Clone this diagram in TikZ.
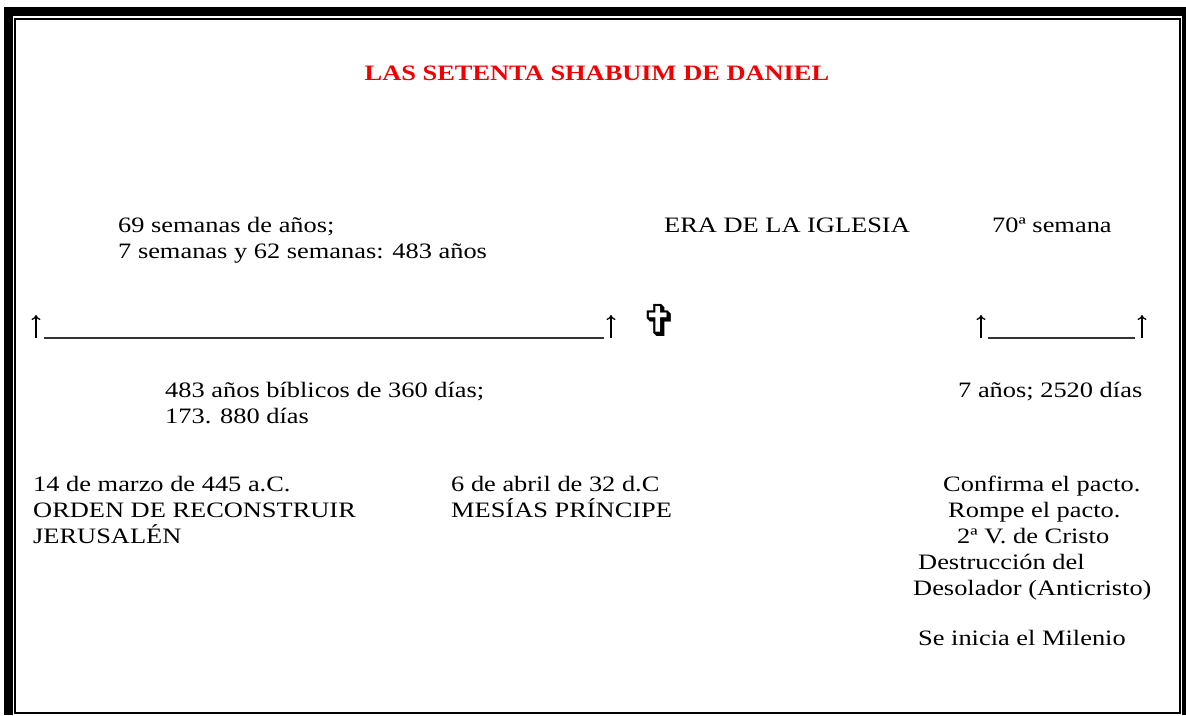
\documentclass[tikz,border=0pt]{standalone}
\usepackage{fontspec}
\setmainfont{Liberation Serif}[FakeStretch=1.2]
\newfontfamily\crossfont{DejaVu Sans}
\usetikzlibrary{arrows.meta}
\definecolor{titlered}{RGB}{240,0,0}
\tikzset{
	txt/.style={anchor=base west, inner sep=0pt, font=\fontsize{22}{26}\selectfont},
	uparrow/.style={line width=1.3pt, -{To[length=5pt,width=9pt]}},
	baseline/.style={line width=1.5pt, black!80}
}

\begin{document}
\begin{tikzpicture}[x=1pt,y=-1pt]
	\useasboundingbox (0,0) rectangle (1186,715);
	% frame
	\fill (4,7) rectangle (13,715);
	\fill (4,7) rectangle (1186,16);
	\fill (1182,7) rectangle (1186,715);
	\draw[line width=2pt] (15,19) rectangle (1180,713);
	% title
	\node[anchor=base, inner sep=0pt, text=titlered, font=\fontsize{22}{26}\selectfont\bfseries] (title) at (597,80) {LAS SETENTA SHABUIM DE DANIEL};
	% upper texts
	\node[txt] (weeksA) at (118,232) {69 semanas de años;};
	\node[txt] (weeksB) at (118,258) {7 semanas y 62 semanas: 483 años};
	\node[txt] (era) at (664,232) {ERA DE LA IGLESIA};
	\node[txt] (week70) at (992,232) {70ª semana};
	% time line
	\coordinate (a1) at (36,338);
	\coordinate (a1t) at (36,315);
	\coordinate (a2) at (611,338);
	\coordinate (a2t) at (611,315);
	\coordinate (b1) at (981,338);
	\coordinate (b1t) at (981,315);
	\coordinate (b2) at (1142,338);
	\coordinate (b2t) at (1142,315);
	\draw[uparrow] (a1) -- (a1t);
	\draw[uparrow] (a2) -- (a2t);
	\draw[uparrow] (b1) -- (b1t);
	\draw[uparrow] (b2) -- (b2t);
	\draw[baseline] ([xshift=8pt]a1) -- ([xshift=-7pt]a2);
	\draw[baseline] ([xshift=7pt]b1) -- ([xshift=-7pt]b2);
	\node[inner sep=0pt, font=\fontsize{44}{44}\crossfont] (cross) at (660,320) {✞};
	% lower texts
	\node[txt] (yearsA) at (165,397) {483 años bíblicos de 360 días;};
	\node[txt] (yearsB) at (165,423) {173. 880 días};
	\node[txt] (days) at (958,397) {7 años; 2520 días};
	\node[txt] (decreeA) at (33,491) {14 de marzo de 445 a.C.};
	\node[txt] (decreeB) at (33,517) {ORDEN DE RECONSTRUIR};
	\node[txt] (decreeC) at (33,543) {JERUSALÉN};
	\node[txt] (messiahA) at (451,491) {6 de abril de 32 d.C};
	\node[txt] (messiahB) at (451,517) {MESÍAS PRÍNCIPE};
	\node[txt] (endA) at (943,491) {Confirma el pacto.};
	\node[txt] (endB) at (948,517) {Rompe el pacto.};
	\node[txt] (endC) at (957,543) {2ª V. de Cristo};
	\node[txt] (endD) at (918,569) {Destrucción del};
	\node[txt] (endE) at (913,595) {Desolador (Anticristo)};
	\node[txt] (endF) at (918,645) {Se inicia el Milenio};
\end{tikzpicture}
\end{document}
